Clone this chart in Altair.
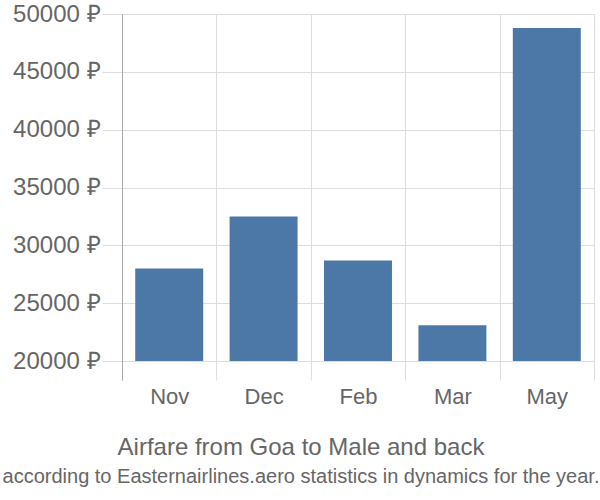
import altair as alt
import pandas as pd

months = ["Nov", "Dec", "Feb", "Mar", "May"]
prices = [28000, 32500, 28700, 23100, 48800]
y_ticks = [20000, 25000, 30000, 35000, 40000, 45000, 50000]

df = pd.DataFrame({"month": months, "price": prices})

FONT = "Liberation Sans"
GREY = "#666666"

bars = alt.Chart(df).mark_bar(width={"band": 0.72}, color="#4c78a8").encode(
    x=alt.X("month:N", sort=months, title=None,
            scale=alt.Scale(paddingInner=0, paddingOuter=0),
            axis=alt.Axis(grid=True, tickBand="extent", domain=False, ticks=False,
                          labelFontSize=22, labelColor=GREY, labelFont=FONT,
                          labelPadding=6, gridColor="#dddddd", labelAngle=0)),
    y=alt.Y("price:Q", title=None,
            scale=alt.Scale(domain=[18360, 50000], nice=False, zero=False),
            axis=alt.Axis(values=y_ticks, labelExpr="datum.value + ' ₽'",
                          labelFontSize=24, labelColor=GREY, labelFont=FONT,
                          gridColor="#dddddd", tickColor="#dddddd", tickSize=20,
                          labelPadding=2, domainColor="#aaaaaa")),
    y2=alt.datum(20000),
)

chart = bars.properties(
    width=472, height=366,
    autosize=alt.AutoSizeParams(type="none"),
    padding={"left": 122, "top": 14, "right": 6, "bottom": 120},
    title=alt.TitleParams(
        text="Airfare from Goa to Male and back",
        subtitle="according to Easternairlines.aero statistics in dynamics for the year.",
        orient="bottom", anchor="middle", frame="group", dx=-57,
        color=GREY, subtitleColor=GREY,
        font=FONT, subtitleFont=FONT, fontSize=24, subtitleFontSize=20,
        fontWeight="normal", offset=29, subtitlePadding=7,
    ),
).configure_view(stroke=None)

chart.save("out.html", embed_options={"renderer": "svg", "actions": False})
